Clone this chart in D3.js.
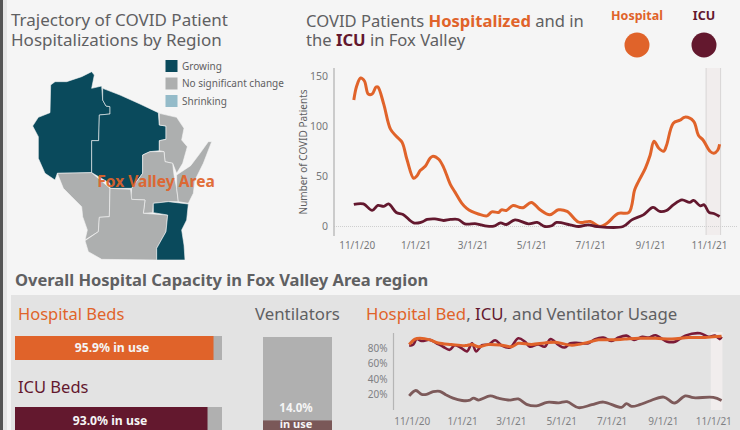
<!DOCTYPE html>
<html>
<head>
<meta charset="utf-8">
<script src="https://cdn.jsdelivr.net/npm/d3@7"></script>
<style>
  html, body { margin: 0; padding: 0; background: #f5f5f5; overflow: hidden; }
  svg { display: block; }
  text { font-family: "Noto Sans", "Open Sans", sans-serif; }
</style>
</head>
<body>
<div id="chart"></div>
<script>
// days since 11/1/20
const hospDays = [-3,0,4,8,12,16,20,22,28,35,41,47,52,59,62,66,71,76,79,85,90,97,102,109,114,119,126,135,140,147,150,155,162,169,173,181,190,200,209,218,230,242,252,259,271,282,288,292,299,304,308,313,318,321,328,335,340,349,354,359,366,370,374,376];
const hospVals = [126,140,148,145,132,132,139,139,122,97,90,84,67,48,50,56,60,68,70,67,59,42,34,23,18,15,12.5,10.6,14.6,14,16.6,16,21,19,19,24,16.6,11.6,16.6,15,4.3,5,0,3,13,14,36.6,45,58,71,85,78,75,81,103,106,109,105,91,86,75,73,76,82];
const icuDays = [-3,7,16,22,28,33,41,48,59,67,73,81,90,97,105,112,124,135,142,149,155,164,178,187,195,202,207,221,230,240,249,276,285,297,307,314,321,328,337,345,349,356,360,365,370,376];
const icuVals = [22,22.5,16,21,20,22.5,14,12,3.6,4.3,7,7.6,6,7,7,2.7,2.7,0.3,0.3,3.6,2,6.6,2.7,4,0,0.7,4,1.7,0,1.7,0,0,6.6,11.6,19,15,16,21.6,26.6,24,26,20.6,21.6,14,13,10];

const bedDays = [-3,4,10,22,32,48,65,73,81,93,109,121,129,145,161,174,194,214,226,242,258,275,295,315,335,355,365,375];
const bedVals = [85,92,93,91,87,85,83.5,85,82,85,84,82,86.5,85,87,88,84,88,91,91,92,93,93,92,94,94,95,95.6];
const icuUseDays = [-3,2,6,12,22,30,38,46,52,59,67,73,78,85,93,101,109,119,129,137,143,153,161,168,178,185,192,202,214,222,232,242,250,260,269,279,287,295,309,319,331,349,359,367,373,375];
const icuUseVals = [83.5,85,92,89.5,91,86.5,82,78,84,81,76,86.5,76,84,85,90.4,83.5,81,93,88.7,82,85,82,92,84,81,86.5,87,86.5,92,94,89.5,94,96.5,91,95,94,97,88.7,88.7,96.5,99.6,95,96.5,92,95];
const ventDays = [-3,5,12,18,26,34,42,50,61,69,75,81,95,105,119,129,139,151,164,178,188,202,218,232,254,260,266,276,287,305,318,331,341,365,375];
const ventVals = [18,25,20,20,23.5,24,19,15,12,12,15,12.6,18,15,12.6,14,7,5,9.6,9,10.4,2.6,6.5,10,3,8,4.3,6.5,11,16.5,8.7,18,15.6,16,12];

const tickDates = ["2020-11-01","2021-01-01","2021-03-01","2021-05-01","2021-07-01","2021-09-01","2021-11-01"];
const bandDays = [362, 377];
const usageBandDays = [362, 376];

const bedUse = 95.9, icuUse = 93.0, ventUse = 14.0;

const legendItems = ["Growing", "No significant change", "Shrinking"];

// map outlines, in map units
const regions = [
  { status: 0, pts: [[152,255],[165,245],[200,245],[245,230],[275,215],[283,225],[275,265],[305,258],[308,300],[318,318],[330,320],[330,342],[298,345],[296,422],[275,422],[275,518],[172,520],[165,540],[135,520],[115,475],[115,410],[98,378],[115,352],[150,338]] },
  { status: 0, pts: [[308,265],[360,285],[420,312],[475,338],[478,375],[498,378],[498,418],[478,422],[478,452],[450,455],[428,465],[428,520],[395,565],[330,565],[330,550],[275,518],[275,422],[296,422],[298,345],[330,342],[330,320],[318,318],[308,300]] },
  { status: 1, pts: [[478,340],[530,352],[552,385],[545,420],[562,440],[548,490],[530,520],[518,490],[495,485],[492,455],[478,452],[478,422],[498,418],[498,378],[478,375]] },
  { status: 1, pts: [[428,465],[450,455],[492,455],[495,485],[518,490],[522,525],[530,565],[535,605],[505,605],[460,610],[458,638],[430,640],[435,600],[392,598],[395,565],[428,520]] },
  { status: 1, pts: [[530,525],[572,497],[600,460],[625,425],[635,425],[610,490],[585,540],[580,580],[565,610],[535,605],[530,565]] },
  { status: 1, pts: [[172,520],[275,518],[330,565],[328,650],[298,652],[295,695],[255,720],[262,690],[248,650],[245,620],[215,590],[190,565]] },
  { status: 1, pts: [[330,565],[392,568],[395,598],[435,600],[430,640],[503,645],[498,695],[470,745],[470,780],[305,778],[265,755],[255,722],[295,695],[298,652],[328,650]] },
  { status: 0, pts: [[460,610],[505,605],[565,612],[560,660],[545,690],[552,735],[555,780],[470,780],[470,745],[498,695],[503,645],[460,638]] }
];

const orange = "#e0632a", maroon = "#63182e", teal = "#0a4a5c", greyText = "#5f6062";
const statusColor = [teal, "#adafaf", "#94bbc9"];

const svg = d3.select("#chart").append("svg").attr("width", 740).attr("height", 430);

// page furniture
svg.append("rect").attr("width", 740).attr("height", 430).attr("fill", "#f5f5f5");
svg.append("rect").attr("width", 3).attr("height", 430).attr("fill", "#555");
svg.append("rect").attr("x", 3).attr("width", 4).attr("height", 430).attr("fill", "#e6e6e6");
svg.append("rect").attr("x", 11).attr("y", 295).attr("width", 729).attr("height", 135).attr("fill", "#e3e3e3");

function label(x, y, str, size, color, opts) {
  opts = opts || {};
  return svg.append("text")
    .attr("x", x).attr("y", y)
    .attr("font-size", size)
    .attr("fill", color)
    .attr("font-weight", opts.weight || 400)
    .attr("text-anchor", opts.anchor || "start")
    .text(str);
}

function parts(x, y, size, list) {
  const t = svg.append("text").attr("x", x).attr("y", y).attr("font-size", size);
  list.forEach((p) => {
    t.append("tspan").attr("fill", p[1]).attr("font-weight", p[2] || 400).text(p[0]);
  });
}

// titles
label(11, 26, "Trajectory of COVID Patient", 17, greyText);
label(11, 46, "Hospitalizations by Region", 17, greyText);
parts(306, 27, 16.6, [["COVID Patients ", greyText], ["Hospitalized", orange, 700], [" and in", greyText]]);
parts(306, 46, 16.6, [["the ", greyText], ["ICU", maroon, 700], [" in Fox Valley", greyText]]);
label(15, 286, "Overall Hospital Capacity in Fox Valley Area region", 16.5, greyText, { weight: 700 });

// map
const mx = d3.scaleLinear().domain([0, 900]).range([0, 300]);
const my = d3.scaleLinear().domain([0, 810]).range([0, 270]);
const mapLine = d3.line().x((d) => mx(d[0])).y((d) => my(d[1])).curve(d3.curveLinearClosed);
svg.append("g")
  .selectAll("path")
  .data(regions)
  .join("path")
  .attr("d", (d) => mapLine(d.pts))
  .attr("fill", (d) => statusColor[d.status])
  .attr("stroke", "#f5f5f5")
  .attr("stroke-width", 0.6);
label(156, 187, "Fox Valley Area", 15.6, orange, { weight: 700, anchor: "middle" }).attr("opacity", 0.92);

// map legend
const legendY = d3.scalePoint().domain(legendItems).range([66, 101]);
legendItems.forEach((d, i) => {
  svg.append("rect").attr("x", 165.5).attr("y", legendY(d) - 6).attr("width", 12).attr("height", 12).attr("fill", statusColor[i]);
  label(182, legendY(d) + 3.5, d, 10, greyText);
});

// top legend
label(637, 20, "Hospital", 12.5, orange, { weight: 700, anchor: "middle" });
label(704, 20, "ICU", 12.5, maroon, { weight: 700, anchor: "middle" });
svg.append("circle").attr("cx", 637).attr("cy", 45).attr("r", 12.5).attr("fill", orange);
svg.append("circle").attr("cx", 704).attr("cy", 45).attr("r", 12.5).attr("fill", maroon);

const start = new Date(2020, 10, 1);
const day = (d) => d3.timeDay.offset(start, d);
const ticks = tickDates.map((d) => d3.timeParse("%Y-%m-%d")(d));
const fmt = (d) => (d.getMonth() + 1) + "/" + d.getDate() + "/" + String(d.getFullYear()).slice(2);

function zip(days, vals) {
  return days.map((d, i) => [day(d), vals[i]]);
}

// patients chart
const x = d3.scaleTime().domain([start, new Date(2021, 10, 1)]).range([356.7, 709]);
const y = d3.scaleLinear().domain([0, 150]).range([226.5, 76]);
const line = d3.line().x((d) => x(d[0])).y((d) => y(d[1])).curve(d3.curveCatmullRom);

svg.append("rect")
  .attr("x", x(day(bandDays[0]))).attr("y", 68)
  .attr("width", x(day(bandDays[1])) - x(day(bandDays[0]))).attr("height", 167)
  .attr("fill", "#f1eded");
bandDays.forEach((d) => {
  svg.append("line").attr("x1", x(day(d))).attr("x2", x(day(d))).attr("y1", 68).attr("y2", 235)
    .attr("stroke", "#d8d6d6").attr("stroke-width", 1);
});
svg.append("line").attr("x1", 334).attr("x2", 737).attr("y1", y(0)).attr("y2", y(0))
  .attr("stroke", "#cfcfcf").attr("stroke-dasharray", "1,1");
svg.append("line").attr("x1", 334).attr("x2", 334).attr("y1", 68).attr("y2", 236)
  .attr("stroke", "#bdbdbd").attr("stroke-width", 1.5);

const yAxis = svg.append("g").attr("transform", "translate(334,0)")
  .call(d3.axisLeft(y).tickValues([0, 50, 100, 150]).tickSize(0).tickPadding(6));
yAxis.select(".domain").remove();
yAxis.selectAll("text").attr("font-size", 10.5).attr("fill", "#77787a").style("font-family", '"Noto Sans"');

const xAxis = svg.append("g").attr("transform", "translate(0,242)")
  .call(d3.axisBottom(x).tickValues(ticks).tickFormat(fmt).tickSize(0).tickPadding(0));
xAxis.select(".domain").remove();
xAxis.selectAll("text").attr("font-size", 10).attr("fill", "#77787a").style("font-family", '"Noto Sans"');

svg.append("text")
  .attr("transform", "translate(307,152) rotate(-90)")
  .attr("text-anchor", "middle").attr("font-size", 10).attr("fill", greyText)
  .text("Number of COVID Patients");

svg.append("path").attr("d", line(zip(hospDays, hospVals)))
  .attr("fill", "none").attr("stroke", orange).attr("stroke-width", 3).attr("stroke-linejoin", "round");
svg.append("path").attr("d", line(zip(icuDays, icuVals)))
  .attr("fill", "none").attr("stroke", maroon).attr("stroke-width", 2.8).attr("stroke-linejoin", "round");

// capacity bars
label(18, 320, "Hospital Beds", 16.5, orange);
label(18, 393, "ICU Beds", 16.5, maroon);
label(255, 320, "Ventilators", 16.8, greyText);

const barX = d3.scaleLinear().domain([0, 100]).range([15, 222]);
const barRows = [
  { y: 336, h: 24, v: bedUse, color: orange },
  { y: 407, h: 26, v: icuUse, color: maroon }
];
svg.append("g").selectAll("rect.bg").data(barRows).join("rect")
  .attr("x", barX(0)).attr("y", (d) => d.y).attr("height", (d) => d.h)
  .attr("width", barX(100) - barX(0)).attr("fill", "#b0b0b0");
svg.append("g").selectAll("rect.fg").data(barRows).join("rect")
  .attr("x", barX(0)).attr("y", (d) => d.y).attr("height", (d) => d.h)
  .attr("width", (d) => barX(d.v) - barX(0)).attr("fill", (d) => d.color);
label(112, 352, bedUse.toFixed(1) + "% in use", 12.2, "#f5f5f5", { weight: 700, anchor: "middle" });
label(110, 425, icuUse.toFixed(1) + "% in use", 12.2, "#f5f5f5", { weight: 700, anchor: "middle" });

const ventY = d3.scaleLinear().domain([0, 100]).range([434, 337]);
svg.append("rect").attr("x", 263).attr("width", 69).attr("y", ventY(100)).attr("height", ventY(0) - ventY(100)).attr("fill", "#b0b0b0");
svg.append("rect").attr("x", 263).attr("width", 69).attr("y", ventY(ventUse)).attr("height", ventY(0) - ventY(ventUse)).attr("fill", "#7a5858");
label(296, 412, ventUse.toFixed(1) + "%", 11.5, "#f5f5f5", { weight: 700, anchor: "middle" });
label(296, 428, "in use", 11, "#f5f5f5", { weight: 700, anchor: "middle" });

// usage chart
parts(366, 320, 16.8, [["Hospital Bed", orange], [", ", greyText], ["ICU", maroon], [", and Ventilator Usage", greyText]]);

const ux = d3.scaleTime().domain([start, new Date(2021, 10, 1)]).range([411.7, 713.3]);
const uy = d3.scaleLinear().domain([0, 80]).range([409.7, 348.3]);
const uline = d3.line().x((d) => ux(d[0])).y((d) => uy(d[1])).curve(d3.curveCatmullRom);

svg.append("rect")
  .attr("x", ux(day(usageBandDays[0]))).attr("y", 332)
  .attr("width", ux(day(usageBandDays[1])) - ux(day(usageBandDays[0]))).attr("height", 78)
  .attr("fill", "#f1eded");
svg.append("line").attr("x1", 393.5).attr("x2", 393.5).attr("y1", 333).attr("y2", 410)
  .attr("stroke", "#b5b5b5").attr("stroke-width", 1.2);

const uyAxis = svg.append("g").attr("transform", "translate(393.5,0)")
  .call(d3.axisLeft(uy).tickValues([20, 40, 60, 80]).tickFormat((d) => d + "%").tickSize(0).tickPadding(6));
uyAxis.select(".domain").remove();
uyAxis.selectAll("text").attr("font-size", 10).attr("fill", "#808183").style("font-family", '"Noto Sans"');

const uxAxis = svg.append("g").attr("transform", "translate(0,418)")
  .call(d3.axisBottom(ux).tickValues(ticks).tickFormat(fmt).tickSize(0).tickPadding(0));
uxAxis.select(".domain").remove();
uxAxis.selectAll("text").attr("font-size", 10).attr("fill", "#808183").style("font-family", '"Noto Sans"');

svg.append("path").attr("d", uline(zip(ventDays, ventVals)))
  .attr("fill", "none").attr("stroke", "#7d5a5a").attr("stroke-width", 2.8);
svg.append("path").attr("d", uline(zip(icuUseDays, icuUseVals)))
  .attr("fill", "none").attr("stroke", "#7a1a38").attr("stroke-width", 2.6);
svg.append("path").attr("d", uline(zip(bedDays, bedVals)))
  .attr("fill", "none").attr("stroke", orange).attr("stroke-width", 3);
</script>
</body>
</html>
